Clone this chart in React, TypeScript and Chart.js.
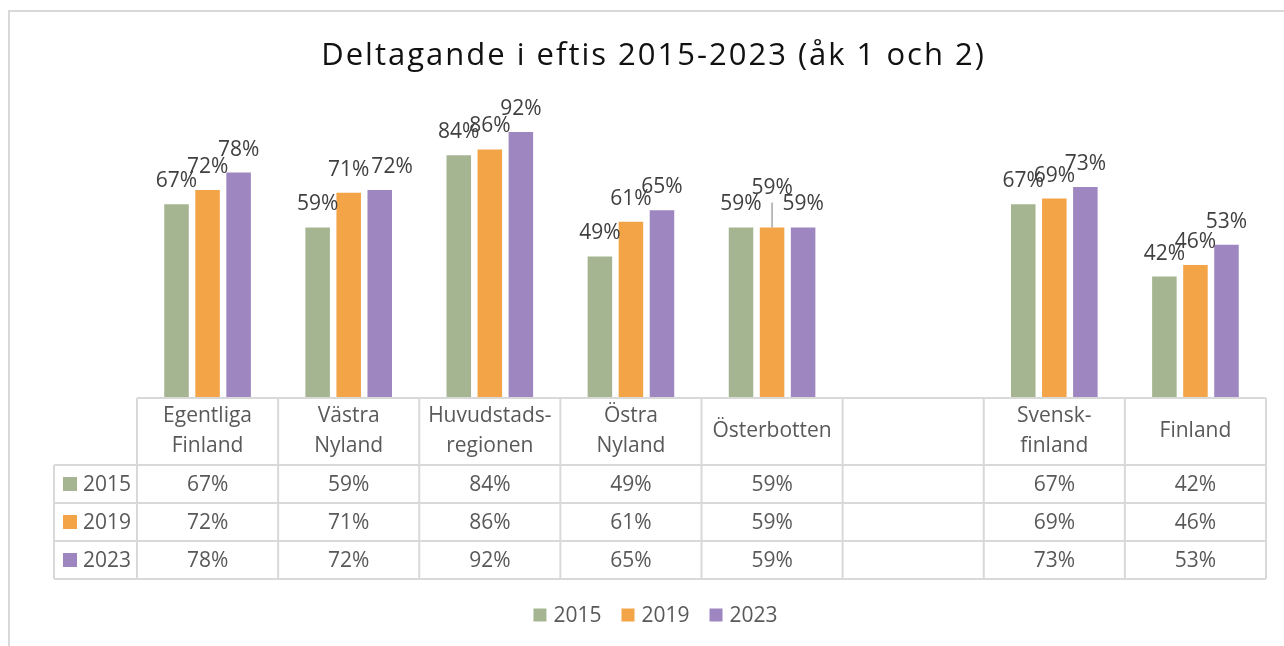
import { useEffect, useRef } from 'react';
import { Chart, registerables } from 'chart.js';

Chart.register(...registerables);

const categories: string[][] = [
  ['Egentliga', 'Finland'],
  ['Västra', 'Nyland'],
  ['Huvudstads-', 'regionen'],
  ['Östra', 'Nyland'],
  ['Österbotten'],
  [''],
  ['Svensk-', 'finland'],
  ['Finland'],
];
const seriesNames = ['2015', '2019', '2023'];
const values2015 = [67, 59, 84, 49, 59, null, 67, 42];
const values2019 = [72, 71, 86, 61, 59, null, 69, 46];
const values2023 = [78, 72, 92, 65, 59, null, 73, 53];
const seriesColors = ['#A5B592', '#F3A447', '#9E86C0'];
const titleText = 'Deltagande i eftis 2015-2023 (åk 1 och 2)';

const FONT = '"Open Sans", "DejaVu Sans", sans-serif';
const FRAME_LEFT = 8;
const FRAME_RIGHT = 1303;
const HEADER_H = 67;
const ROW_H = 38;
const TABLE_LEFT = 54;
const GRID = '#d9d9d9';
const TABLE_TEXT = '#595959';
const LABEL_TEXT = '#404040';

const framePlugin = {
  id: 'frame',
  beforeDraw(chart: any) {
    const ctx = chart.ctx;
    ctx.save();
    ctx.fillStyle = '#ffffff';
    ctx.fillRect(0, 0, chart.width, chart.height);
    ctx.strokeStyle = GRID;
    ctx.lineWidth = 2;
    ctx.strokeRect(FRAME_LEFT + 1, 11, 2000, 2000);
    // title
    ctx.fillStyle = '#111111';
    ctx.font = `31px ${FONT}`;
    (ctx as any).letterSpacing = '2px';
    ctx.textAlign = 'center';
    ctx.textBaseline = 'middle';
    ctx.fillText(titleText, (FRAME_LEFT + FRAME_RIGHT) / 2 - 2, 56);
    ctx.restore();
  },
};

const labelPlugin = {
  id: 'barLabels',
  afterDatasetsDraw(chart: any) {
    const ctx = chart.ctx;
    ctx.save();
    ctx.font = `21px ${FONT}`;
    ctx.textAlign = 'center';
    ctx.textBaseline = 'alphabetic';
    const n = chart.data.labels.length;
    const count = chart.data.datasets.length;
    const h = 15;
    for (let i = 0; i < n; i++) {
      const placed: { cx: number; w: number; bottom: number }[] = [];
      for (let d = 0; d < count; d++) {
        const v = chart.data.datasets[d].data[i];
        if (v == null) continue;
        const el = chart.getDatasetMeta(d).data[i];
        const text = `${v}%`;
        const w = ctx.measureText(text).width;
        let cx = el.x;
        const defBottom = el.y - 17;
        let bottom = defBottom;
        for (const p of placed) {
          const xo = Math.min(cx + w / 2, p.cx + p.w / 2) - Math.max(cx - w / 2, p.cx - p.w / 2);
          const yo = Math.min(bottom, p.bottom) - Math.max(bottom - h, p.bottom - h);
          if (xo > 0 && yo > 10) {
            if (d === count - 1) cx += xo + 2;
            else bottom = p.bottom - h - 1;
          }
        }
        if (defBottom - bottom > 4) {
          ctx.strokeStyle = '#a6a6a6';
          ctx.lineWidth = 1.5;
          ctx.beginPath();
          ctx.moveTo(el.x, el.y);
          ctx.lineTo(el.x, bottom + 8);
          ctx.stroke();
        }
        ctx.fillStyle = LABEL_TEXT;
        ctx.fillText(text, cx, bottom);
        placed.push({ cx, w, bottom });
      }
    }
    ctx.restore();
  },
};

const tablePlugin = {
  id: 'dataTable',
  afterDraw(chart: any) {
    const ctx = chart.ctx;
    const area = chart.chartArea;
    const n = chart.data.labels.length;
    const rows = chart.data.datasets.length;
    const colW = (area.right - area.left) / n;
    const top = area.bottom;
    const rowsTop = top + HEADER_H;
    const bottom = rowsTop + ROW_H * rows;
    ctx.save();
    ctx.strokeStyle = GRID;
    ctx.lineWidth = 2;
    ctx.beginPath();
    ctx.moveTo(area.left, top);
    ctx.lineTo(area.right, top);
    for (let r = 0; r <= rows; r++) {
      const y = rowsTop + r * ROW_H;
      ctx.moveTo(TABLE_LEFT, y);
      ctx.lineTo(area.right, y);
    }
    for (let c = 0; c <= n; c++) {
      const x = area.left + c * colW;
      ctx.moveTo(x, top);
      ctx.lineTo(x, bottom);
    }
    ctx.moveTo(TABLE_LEFT, rowsTop);
    ctx.lineTo(TABLE_LEFT, bottom);
    ctx.stroke();

    ctx.font = `21px ${FONT}`;
    ctx.fillStyle = TABLE_TEXT;
    ctx.textAlign = 'center';
    ctx.textBaseline = 'middle';
    for (let c = 0; c < n; c++) {
      const cx = chart.scales.x.getPixelForValue(c);
      const lines: string[] = chart.data.labels[c];
      const lh = 30;
      const cy = top + HEADER_H / 2;
      lines.forEach((ln, k) => {
        ctx.fillText(ln, cx, cy + (k - (lines.length - 1) / 2) * lh);
      });
    }
    chart.data.datasets.forEach((ds: any, r: number) => {
      const cy = rowsTop + r * ROW_H + ROW_H / 2;
      ctx.fillStyle = ds.backgroundColor;
      ctx.fillRect(TABLE_LEFT + 9, cy - 7, 14, 14);
      ctx.fillStyle = TABLE_TEXT;
      ctx.textAlign = 'left';
      ctx.fillText(ds.label, TABLE_LEFT + 29, cy + 1);
      ctx.textAlign = 'center';
      ds.data.forEach((v: number | null, c: number) => {
        if (v == null) return;
        ctx.fillText(`${v}%`, chart.scales.x.getPixelForValue(c), cy + 1);
      });
    });

    // legend
    ctx.font = `21px ${FONT}`;
    ctx.textBaseline = 'middle';
    ctx.textAlign = 'left';
    const box = 13;
    const gap = 7;
    const itemGap = 20;
    const widths = chart.data.datasets.map((ds: any) => box + gap + ctx.measureText(ds.label).width);
    const total = widths.reduce((a: number, b: number) => a + b, 0) + itemGap * (widths.length - 1);
    let x = (FRAME_LEFT + FRAME_RIGHT) / 2 - total / 2;
    const ly = 615;
    chart.data.datasets.forEach((ds: any, k: number) => {
      ctx.fillStyle = ds.backgroundColor;
      ctx.fillRect(x, ly - box / 2, box, box);
      ctx.fillStyle = TABLE_TEXT;
      ctx.fillText(ds.label, x + box + gap, ly + 1);
      x += widths[k] + itemGap;
    });
    ctx.restore();
  },
};

export default function App() {
  const ref = useRef<HTMLCanvasElement | null>(null);
  useEffect(() => {
    document.body.style.margin = '0';
    if (!ref.current) return;
    const seriesValues = [values2015, values2019, values2023];
    const chart = new Chart(ref.current, {
      type: 'bar',
      data: {
        labels: categories as any,
        datasets: seriesNames.map((name, k) => ({
          label: name,
          data: seriesValues[k] as any,
          backgroundColor: seriesColors[k],
          borderWidth: 0,
          categoryPercentage: 0.66,
          barPercentage: 0.79,
        })),
      },
      options: {
        animation: false,
        responsive: false,
        layout: { padding: { top: 109, left: 137, right: 18, bottom: 67 } },
        plugins: {
          legend: { display: false },
          title: { display: false },
          tooltip: { enabled: false },
        },
        scales: {
          x: {
            display: true,
            grid: { display: false },
            border: { display: false },
            ticks: { display: false },
            afterFit(scale: any) {
              scale.height = 181;
            },
          },
          y: { display: false, min: 0, max: 100 },
        },
      },
      plugins: [framePlugin, labelPlugin, tablePlugin],
    });
    return () => chart.destroy();
  }, []);
  return (
    <div style={{ width: 1284, height: 646 }}>
      <canvas ref={ref} width={1284} height={646} style={{ display: 'block' }} />
    </div>
  );
}
